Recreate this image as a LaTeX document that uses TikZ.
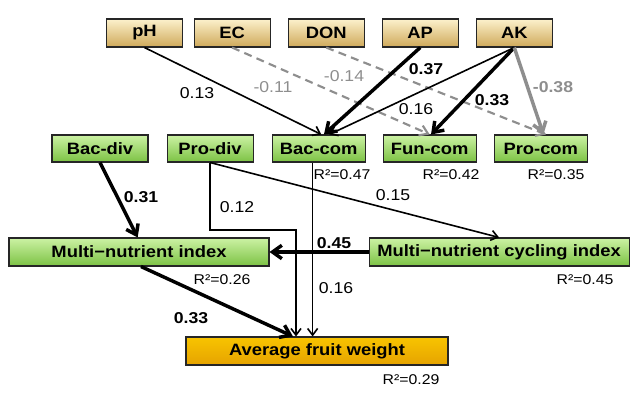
\documentclass[tikz,border=0pt]{standalone}
\usepackage{fontspec}
\setmainfont{Liberation Sans}[FakeStretch=1.12]
\usetikzlibrary{arrows.meta,positioning}

\definecolor{soiltop}{HTML}{FCF1CC}
\definecolor{soilbot}{HTML}{CFA95A}
\definecolor{bugtop}{HTML}{CCF2A4}
\definecolor{bugbot}{HTML}{7CC244}
\definecolor{fruittop}{HTML}{F8C400}
\definecolor{fruitbot}{HTML}{E6A300}
\definecolor{negline}{HTML}{8E8E8E}

\begin{document}
\begin{tikzpicture}[
    x=0.75pt, y=-0.75pt,
    node distance=12.75pt,
    soil/.style={rectangle, draw=black!85, line width=0.8pt, minimum height=21pt, minimum width=57pt, inner sep=0pt, top color=soiltop, bottom color=soilbot, font=\fontsize{12.3}{13}\selectfont\bfseries},
    microbe/.style={rectangle, draw=black!85, line width=0.8pt, minimum height=20.25pt, minimum width=69.75pt, inner sep=0pt, top color=bugtop, bottom color=bugbot, font=\fontsize{12.3}{13}\selectfont\bfseries},
    fruit/.style={rectangle, draw=black!85, line width=0.8pt, minimum height=21pt, minimum width=196.5pt, inner sep=0pt, top color=fruittop, bottom color=fruitbot, font=\fontsize{12.3}{13}\selectfont\bfseries},
    arrow/.style={-{Straight Barb[length=5pt, width=7.5pt]}, line width=1.2pt},
    tarrow/.style={-{Straight Barb[length=7pt, width=10pt]}, line width=2.6pt},
    darrow/.style={-{Straight Barb[length=6pt, width=8pt]}, line width=1.6pt, dashed, dash pattern=on 6pt off 4pt, negline},
    coef/.style={font=\fontsize{11.8}{13}\selectfont, inner sep=1pt},
    bcoef/.style={font=\fontsize{11.8}{13}\selectfont\bfseries, inner sep=1pt},
    rsq/.style={font=\fontsize{10.6}{12}\selectfont, inner sep=1pt},
]
\useasboundingbox (0,0) rectangle (639,398);

% Soil properties
\node[soil] (ph) at (144.5,33) {pH};
\node[soil, right=7.9pt of ph] (ec) {EC};
\node[soil, right=12.75pt of ec] (don) {DON};
\node[soil, right=12.75pt of don] (ap) {AP};
\node[soil, right=12.75pt of ap] (ak) {AK};

% Microbial diversity and community
\node[microbe, minimum width=72pt] (bacdiv) at (100,148.5) {Bac-div};
\node[microbe, minimum width=64.5pt, right=13.5pt of bacdiv] (prodiv) {Pro-div};
\node[microbe, right=13.5pt of prodiv] (baccom) {Bac-com};
\node[microbe, right=12.75pt of baccom] (funcom) {Fun-com};
\node[microbe, right=12.75pt of funcom] (procom) {Pro-com};

% Indices
\node[microbe, minimum width=195pt, minimum height=21pt] (mni) at (139,252) {Multi−nutrient index};
\node[microbe, minimum width=195pt, minimum height=21pt, right=74.25pt of mni] (mnci) {Multi−nutrient cycling index};

% Yield
\node[fruit] (avg) at (317,351) {Average fruit weight};

% R2 values
\node[rsq] (r2bc) at (342,175) {R²=0.47};
\node[rsq] (r2fc) at (451,175) {R²=0.42};
\node[rsq] (r2pc) at (556,175) {R²=0.35};
\node[rsq] (r2mni) at (222,280) {R²=0.26};
\node[rsq] (r2mnci) at (585,280) {R²=0.45};
\node[rsq] (r2avg) at (411,380) {R²=0.29};

% Soil -> communities
\draw[darrow] (ec.south) -- (funcom.north);
\draw[darrow] (don.south) -- ([xshift=4pt]procom.north);
\draw[arrow] (ph.south) -- ([xshift=2pt]baccom.north);
\draw[tarrow] (ap.south) -- ([xshift=4pt]baccom.north);
\draw[arrow] (ak.south) -- ([xshift=8pt]baccom.north);
\draw[tarrow] (ak.south) -- ([xshift=1pt]funcom.north);
\draw[tarrow, negline] (ak.south) -- ([xshift=2pt]procom.north);

\node[coef] (c1) at (197,93) {0.13};
\node[coef, negline] (c2) at (273,87) {-0.11};
\node[coef, negline] (c3) at (344,76) {-0.14};
\node[bcoef] (c4) at (426,69) {0.37};
\node[coef] (c5) at (416,109) {0.16};
\node[bcoef] (c6) at (492,100) {0.33};
\node[bcoef, negline] (c7) at (553,87) {-0.38};

% Communities -> indices and yield
\coordinate (pdturn) at (296,230);
\draw[tarrow] (bacdiv.south) -- ([xshift=-1pt]mni.north);
\draw[arrow] (prodiv.south) |- (pdturn) -- (pdturn |- avg.north);
\draw[arrow] (prodiv.south) -- (mnci.north);
\draw[arrow] ([xshift=-4.5pt]baccom.south) -- ([xshift=-4.5pt]baccom.south |- avg.north);
\draw[tarrow] (mnci.west) -- (mni.east);
\draw[tarrow] ([xshift=1.5pt]mni.south) -- ([xshift=-18pt]avg.north);

\node[bcoef] (c8) at (141,197) {0.31};
\node[coef] (c9) at (237,207) {0.12};
\node[coef] (c10) at (393,195) {0.15};
\node[coef] (c11) at (336,288) {0.16};
\node[bcoef] (c12) at (334,243) {0.45};
\node[bcoef] (c13) at (191,318) {0.33};

\end{tikzpicture}
\end{document}
